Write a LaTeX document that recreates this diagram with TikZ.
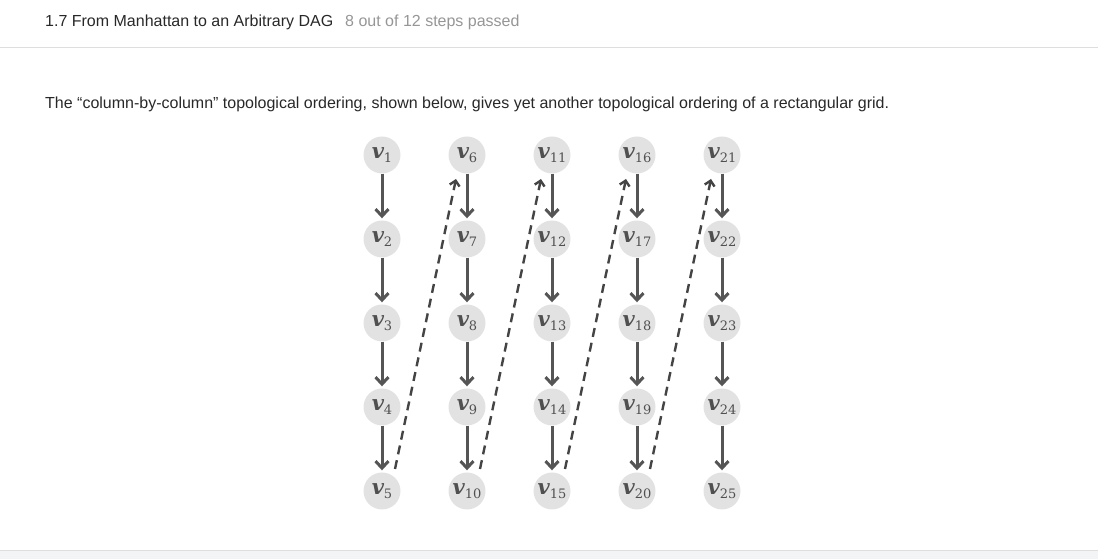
\documentclass[tikz,border=0pt]{standalone}
\usepackage{fontspec}
\setmainfont{Liberation Sans}
\newfontfamily\vfont{DejaVu Serif}
\usepackage{xcolor}
\usepackage{tikz}
\usetikzlibrary{arrows.meta}
\definecolor{GrayNode}{RGB}{226,226,226}
\definecolor{GrayLabel}{RGB}{80,80,80}
\definecolor{GrayArrow}{RGB}{85,85,85}
\definecolor{GrayTitle}{RGB}{40,40,40}
\definecolor{GraySteps}{RGB}{150,150,150}
\definecolor{GrayRule}{RGB}{222,222,222}
\definecolor{GrayBand}{RGB}{243,244,246}
\newcommand{\vlab}[1]{{\fontsize{21}{21}\selectfont\bfseries\itshape v}%
  \raisebox{-4.5pt}{\fontsize{13}{13}\selectfont #1}}

\begin{document}
\begin{tikzpicture}[x=1pt,y=1pt,
    vertex/.style={circle,fill=GrayNode,minimum size=37pt,inner sep=0pt,
      text=GrayLabel,font=\vfont},
    edge arrow/.style={-{Straight Barb[length=7pt,width=13pt]},line width=3pt,
      GrayArrow,shorten >=2pt},
    jump arrow/.style={-{Straight Barb[length=5pt,width=10pt]},line width=2.4pt,
      GrayArrow!80!black,dash pattern=on 9pt off 6pt},
    line/.style={anchor=base west,inner sep=0pt,font=\fontsize{16}{16}\selectfont}]
  \useasboundingbox (0,0) rectangle (1098,559);

  % page furniture
  \node[line,text=GrayTitle] (title) at (45,532) {1.7 From Manhattan to an Arbitrary DAG};
  \node[line,text=GraySteps] (steps) at (345,532) {8 out of 12 steps passed};
  \draw[GrayRule,line width=1pt] (0,511) -- (1098,511);
  \node[line,text=GrayTitle] (intro) at (45,450)
    {The “column-by-column” topological ordering, shown below, gives yet another topological ordering of a rectangular grid.};
  \fill[GrayBand] (0,0) rectangle (1098,8);
  \draw[GrayRule,line width=1pt] (0,8) -- (1098,8);

  % grid: column by column, top to bottom
  \foreach \c in {0,...,4}
    \foreach \r in {1,...,5}{
      \pgfmathtruncatemacro\k{5*\c+\r}
      \node[vertex] (v\k) at ({382+85*\c},{404-84*(\r-1)}) {\vlab{\k}};
    }
  \foreach \c in {0,...,4}
    \foreach \r in {1,...,4}{
      \pgfmathtruncatemacro\a{5*\c+\r}
      \pgfmathtruncatemacro\b{\a+1}
      \draw[edge arrow] (v\a) -- (v\b);
    }
  \foreach \a/\b in {5/6,10/11,15/16,20/21}
    \draw[jump arrow] ([shift={(13,22)}]v\a.center) -- ([shift={(-11,-24)}]v\b.center);
\end{tikzpicture}
\end{document}
